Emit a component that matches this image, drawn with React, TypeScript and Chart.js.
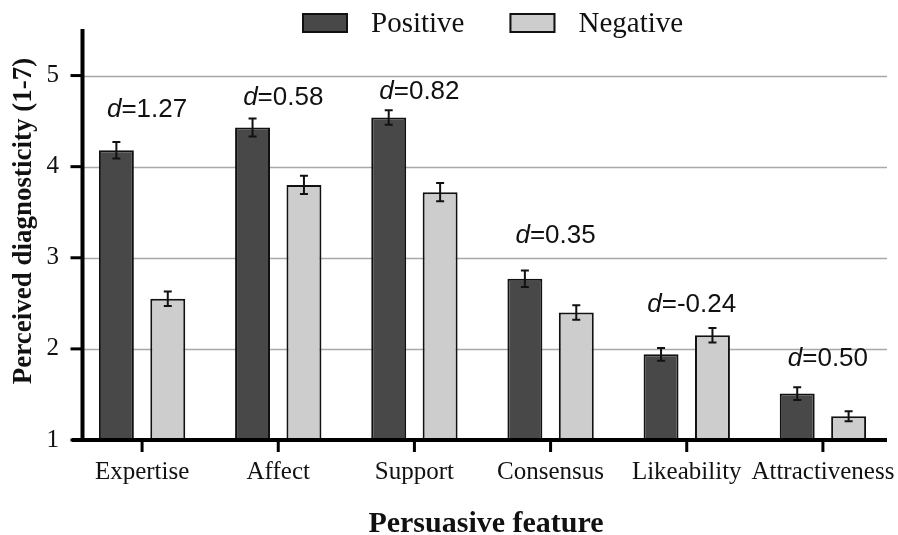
import React, { useEffect, useRef } from 'react';
import { Chart, registerables } from 'chart.js';

Chart.register(...registerables);

const categories = ['Expertise', 'Affect', 'Support', 'Consensus', 'Likeability', 'Attractiveness'];
const seriesNames = ['Positive', 'Negative'];
const positiveMeans = [4.18, 4.43, 4.54, 2.77, 1.94, 1.51];
const negativeMeans = [2.55, 3.8, 3.72, 2.4, 2.15, 1.26];
const positiveErrors = [0.09, 0.1, 0.08, 0.09, 0.07, 0.07];
const negativeErrors = [0.08, 0.1, 0.1, 0.08, 0.08, 0.055];
const effectSizes = ['1.27', '0.58', '0.82', '0.35', '-0.24', '0.50'];
const effectLabelLevels = [4.54, 4.68, 4.74, 3.16, 2.4, 1.81];
const yMin = 1;
const yMax = 5.5;
const yStep = 1;
const yTitle = 'Perceived diagnosticity (1-7)';
const xTitle = 'Persuasive feature';

const SERIF = '"Liberation Serif", "Times New Roman", serif';
const SANS = '"Liberation Sans", Arial, sans-serif';
const INK = '#111111';
const DARK = '#484848';
const LIGHT = '#cdcdcd';

const errorsBySeries = [positiveErrors, negativeErrors];
const meansBySeries = [positiveMeans, negativeMeans];
const fills = [DARK, LIGHT];

const decorPlugin = {
  id: 'decor',
  beforeDatasetsDraw(chart: any) {
    const { ctx, chartArea, scales } = chart;
    const ys = scales.y;
    const axisX = chartArea.left + 8.5;
    ctx.save();
    ctx.strokeStyle = '#a8a8a8';
    ctx.lineWidth = 1.5;
    ys.ticks.forEach((t: any) => {
      if (t.value <= yMin) return;
      const y = Math.round(ys.getPixelForValue(t.value)) + 0.5;
      ctx.beginPath();
      ctx.moveTo(axisX, y);
      ctx.lineTo(chartArea.right - 4, y);
      ctx.stroke();
    });
    ctx.restore();
  },
  afterDatasetsDraw(chart: any) {
    const { ctx, chartArea, scales } = chart;
    const xs = scales.x;
    const ys = scales.y;
    ctx.save();

    // error bars
    ctx.strokeStyle = INK;
    ctx.lineWidth = 2;
    [0, 1].forEach((di) => {
      const meta = chart.getDatasetMeta(di);
      meta.data.forEach((el: any, i: number) => {
        const m = meansBySeries[di][i];
        const e = errorsBySeries[di][i];
        const x = el.x;
        const y1 = ys.getPixelForValue(m + e);
        const y2 = ys.getPixelForValue(m - e);
        ctx.beginPath();
        ctx.moveTo(x, y1);
        ctx.lineTo(x, y2);
        ctx.moveTo(x - 4, y1);
        ctx.lineTo(x + 4, y1);
        ctx.moveTo(x - 4, y2);
        ctx.lineTo(x + 4, y2);
        ctx.stroke();
      });
    });

    // axes
    const axisX = chartArea.left + 8.5;
    const baseY = ys.getPixelForValue(yMin);
    ctx.strokeStyle = '#000';
    ctx.lineWidth = 4;
    ctx.beginPath();
    ctx.moveTo(axisX, chartArea.top - 1);
    ctx.lineTo(axisX, baseY);
    ctx.stroke();
    ctx.beginPath();
    ctx.moveTo(chartArea.left - 2, baseY);
    ctx.lineTo(chartArea.right - 4, baseY);
    ctx.stroke();
    ctx.lineWidth = 3;
    ys.ticks.forEach((t: any) => {
      const y = ys.getPixelForValue(t.value);
      ctx.beginPath();
      ctx.moveTo(axisX - 12, y);
      ctx.lineTo(axisX, y);
      ctx.stroke();
    });
    categories.forEach((_, i) => {
      const x = xs.getPixelForValue(i);
      ctx.beginPath();
      ctx.moveTo(x, baseY);
      ctx.lineTo(x, baseY + 12);
      ctx.stroke();
    });

    // effect size annotations
    ctx.fillStyle = INK;
    ctx.textBaseline = 'alphabetic';
    ctx.textAlign = 'left';
    effectSizes.forEach((d, i) => {
      const x = xs.getPixelForValue(i) + 5;
      const y = ys.getPixelForValue(effectLabelLevels[i]);
      ctx.font = `italic 26px ${SANS}`;
      const wd = ctx.measureText('d').width;
      ctx.font = `26px ${SANS}`;
      const rest = '=' + d;
      const wr = ctx.measureText(rest).width;
      const start = x - (wd + wr) / 2;
      ctx.font = `italic 26px ${SANS}`;
      ctx.fillText('d', start, y);
      ctx.font = `26px ${SANS}`;
      ctx.fillText(rest, start + wd, y);
    });

    // legend
    ctx.font = `29px ${SERIF}`;
    ctx.textBaseline = 'middle';
    let lx = 302;
    const ly = 13;
    seriesNames.forEach((name, i) => {
      ctx.fillStyle = fills[i];
      ctx.fillRect(lx, ly, 46, 20);
      ctx.strokeStyle = INK;
      ctx.lineWidth = 2;
      ctx.strokeRect(lx + 1, ly + 1, 44, 18);
      ctx.fillStyle = INK;
      ctx.fillText(name, lx + 69, ly + 11);
      lx += 69 + ctx.measureText(name).width + 45;
    });

    // axis titles
    ctx.font = `bold 27px ${SERIF}`;
    ctx.textAlign = 'center';
    ctx.textBaseline = 'middle';
    ctx.save();
    ctx.translate(24, 221);
    ctx.rotate(-Math.PI / 2);
    ctx.fillText(yTitle, 0, 0);
    ctx.restore();
    ctx.font = `bold 30px ${SERIF}`;
    ctx.textBaseline = 'alphabetic';
    ctx.fillText(xTitle, 486, 532);

    ctx.restore();
  },
};

export default function App() {
  const ref = useRef<HTMLCanvasElement | null>(null);
  useEffect(() => {
    if (!ref.current) return;
    const chart = new Chart(ref.current, {
      type: 'bar',
      data: {
        labels: categories,
        datasets: [
          {
            label: seriesNames[0],
            data: positiveMeans,
            backgroundColor: DARK,
            borderColor: INK,
            borderWidth: 2,
            borderSkipped: false,
            categoryPercentage: 0.755,
            barPercentage: 0.68,
          },
          {
            label: seriesNames[1],
            data: negativeMeans,
            backgroundColor: LIGHT,
            borderColor: INK,
            borderWidth: 2,
            borderSkipped: false,
            categoryPercentage: 0.755,
            barPercentage: 0.68,
          },
        ],
      },
      options: {
        responsive: false,
        animation: false,
        devicePixelRatio: 1,
        layout: { padding: { left: 0, right: 7, top: 30, bottom: 0 } },
        plugins: { legend: { display: false }, tooltip: { enabled: false } },
        scales: {
          x: {
            grid: { display: false },
            border: { display: false },
            ticks: {
              font: { family: SERIF, size: 25 },
              color: INK,
              padding: 9,
              maxRotation: 0,
              minRotation: 0,
              autoSkip: false,
            },
            afterFit: (s: any) => {
              s.height = 95;
              s.paddingLeft = 0;
              s.paddingRight = 0;
            },
          },
          y: {
            min: yMin,
            max: yMax,
            grid: { display: false },
            border: { display: false },
            ticks: {
              stepSize: yStep,
              includeBounds: false,
              font: { family: SERIF, size: 25 },
              color: INK,
              padding: 7,
            },
            afterFit: (s: any) => {
              s.width = 74;
              s.paddingTop = 0;
              s.paddingBottom = 0;
            },
          },
        },
      },
      plugins: [decorPlugin],
    } as any);
    return () => chart.destroy();
  }, []);
  return (
    <div style={{ position: 'absolute', left: 0, top: 0, width: 898, height: 535, background: '#fff' }}>
      <canvas ref={ref} width={898} height={535} style={{ display: 'block' }} />
    </div>
  );
}
